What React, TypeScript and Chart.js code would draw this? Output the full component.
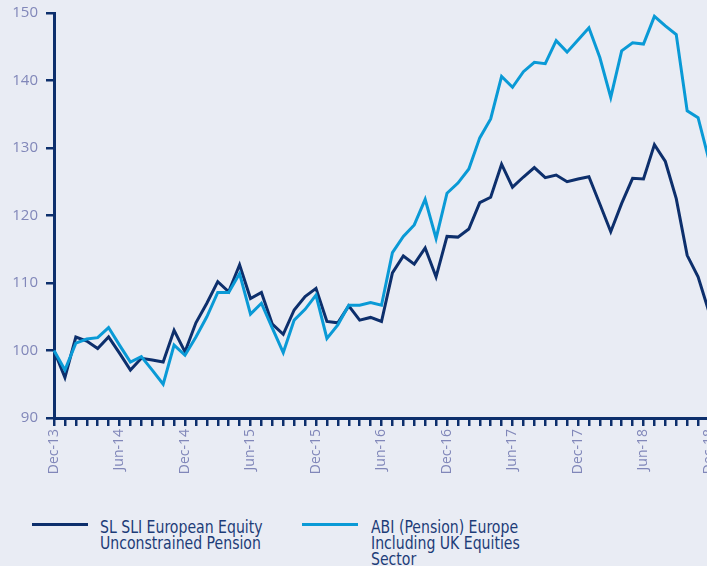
import React, { useEffect, useRef } from "react";
import { Chart, registerables } from "chart.js";

Chart.register(...registerables);

const months = ["Dec", "Jan", "Feb", "Mar", "Apr", "May", "Jun", "Jul", "Aug", "Sep", "Oct", "Nov"];
const startYear = 13;
const monthCount = 61;
const categories: string[] = Array.from({ length: monthCount }, (_, i) => {
  const m = months[i % 12];
  const y = startYear + Math.floor((i + 11) / 12);
  return `${m}-${y}`;
});

const seriesNames = [
  ["SL SLI European Equity", "Unconstrained Pension"],
  ["ABI (Pension) Europe", "Including UK Equities", "Sector"],
];

const slValues = [
  100, 96.0, 102.0, 101.4, 100.3, 102.0, 99.6, 97.1, 98.85, 98.6, 98.3, 103.0,
  99.8, 104.1, 107.0, 110.2, 108.7, 112.7, 107.7, 108.6, 103.9, 102.4, 106.0, 108.0,
  109.2, 104.3, 104.1, 106.6, 104.5, 104.9, 104.3, 111.5, 114.0, 112.8, 115.2, 110.9,
  116.9, 116.8, 118.0, 121.9, 122.7, 127.6, 124.2, 125.7, 127.1, 125.6, 126.0, 125.0,
  125.4, 125.75, 121.7, 117.6, 121.8, 125.5, 125.4, 130.5, 128.0, 122.5, 114.1, 110.9,
  105.7,
];

const abiValues = [
  100, 97.1, 101.1, 101.7, 101.9, 103.4, 100.8, 98.3, 99.1, 97.1, 95.0, 100.8,
  99.3, 102.0, 105.0, 108.6, 108.6, 111.4, 105.4, 107.0, 103.3, 99.7, 104.5, 106.1,
  108.2, 101.8, 103.8, 106.7, 106.7, 107.1, 106.7, 114.5, 116.9, 118.6, 122.4, 116.6,
  123.3, 124.8, 126.9, 131.5, 134.3, 140.6, 139.0, 141.3, 142.7, 142.5, 145.9, 144.2,
  146.0, 147.8, 143.4, 137.5, 144.4, 145.6, 145.4, 149.5, 148.1, 146.8, 135.5, 134.5,
  128.2,
];

const yMin = 90;
const yMax = 150;
const yStep = 10;

const NAVY = "#0d2f6c";
const BLUE = "#0a9ad6";
const TICK_TEXT = "#8187b9";
const BG = "#e9ecf4";

export default function App() {
  const ref = useRef<HTMLCanvasElement | null>(null);

  useEffect(() => {
    if (!ref.current) return;
    const chart = new Chart(ref.current, {
      type: "line",
      data: {
        labels: categories,
        datasets: [
          {
            label: seriesNames[0].join(" "),
            data: slValues,
            borderColor: NAVY,
            borderWidth: 3,
            pointRadius: 0,
            tension: 0,
            order: 1,
          },
          {
            label: seriesNames[1].join(" "),
            data: abiValues,
            borderColor: BLUE,
            borderWidth: 3,
            pointRadius: 0,
            tension: 0,
            order: 0,
          },
        ],
      },
      options: {
        responsive: false,
        animation: false,
        layout: { padding: { left: 0, top: 13, right: 21, bottom: 0 } },
        plugins: { legend: { display: false }, tooltip: { enabled: false } },
        scales: {
          x: {
            type: "category",
            offset: false,
            afterFit: (s: any) => {
              s.height = 72;
            },
            grid: {
              drawOnChartArea: false,
              drawTicks: true,
              tickLength: 8,
              color: NAVY,
              lineWidth: 2.5,
              offset: false,
            },
            border: { display: true, color: NAVY, width: 3 },
            ticks: {
              autoSkip: false,
              maxRotation: 90,
              minRotation: 90,
              padding: 3,
              color: TICK_TEXT,
              font: { family: "Open Sans", size: 14 },
              callback: (_v: any, i: number) => (i % 6 === 0 ? categories[i] : ""),
            },
          },
          y: {
            min: yMin,
            max: yMax,
            afterFit: (s: any) => {
              s.width = 54;
              s.paddingTop = 0;
              s.paddingBottom = 0;
            },
            grid: {
              drawOnChartArea: false,
              drawTicks: true,
              tickLength: 8,
              color: NAVY,
              lineWidth: 2.5,
            },
            border: { display: true, color: NAVY, width: 3 },
            ticks: {
              stepSize: yStep,
              padding: 8,
              color: TICK_TEXT,
              font: { family: "Open Sans", size: 15 },
            },
          },
        },
      },
    });
    return () => chart.destroy();
  }, []);

  const legendFont: React.CSSProperties = {
    fontFamily: '"Liberation Sans Narrow", "DejaVu Sans Condensed", "Roboto", sans-serif',
    fontSize: 17,
    lineHeight: "16px",
    color: "#1d3c78",
    position: "absolute",
    whiteSpace: "nowrap",
    transform: "scaleX(0.92)",
    transformOrigin: "left top",
  };

  return (
    <div
      style={{
        position: "fixed",
        left: 0,
        top: 0,
        width: 707,
        height: 566,
        overflow: "hidden",
        background: BG,
      }}
    >
      <canvas ref={ref} width={730} height={490} style={{ position: "absolute", left: 0, top: 0 }} />
      <div style={{ position: "absolute", left: 32, top: 523, width: 56, height: 3, background: NAVY }} />
      <div style={{ ...legendFont, left: 100, top: 519 }}>
        {seriesNames[0].map((t) => (
          <div key={t}>{t}</div>
        ))}
      </div>
      <div style={{ position: "absolute", left: 302, top: 523, width: 56, height: 3, background: BLUE }} />
      <div style={{ ...legendFont, left: 371, top: 519 }}>
        {seriesNames[1].map((t) => (
          <div key={t}>{t}</div>
        ))}
      </div>
    </div>
  );
}
